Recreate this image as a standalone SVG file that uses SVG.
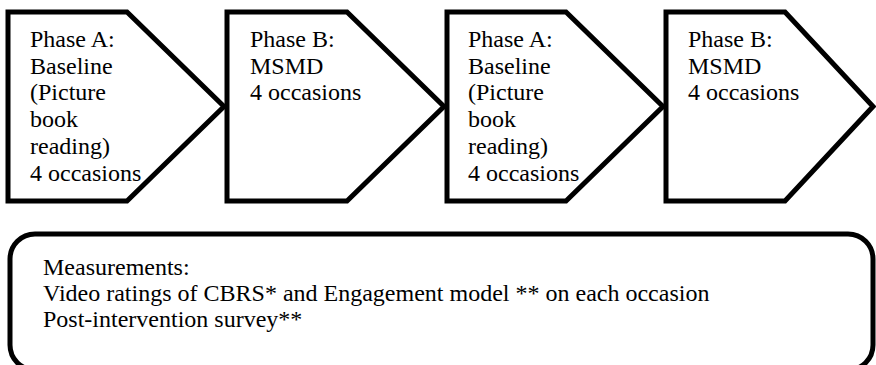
<svg xmlns="http://www.w3.org/2000/svg" width="876" height="365" viewBox="0 0 876 365">
<style>
.shape{fill:#fff;stroke:#000;stroke-width:5;stroke-linejoin:miter}
.t{font-family:"Liberation Serif","Times New Roman",serif;font-size:24px;fill:#000}
</style>
<rect width="876" height="365" fill="#fff"/>
<g id="phase1">
<polygon class="shape" points="8,12 127,12 224,106.5 127,201 8,201"/>
<text class="t" x="30" y="47">Phase A:</text>
<text class="t" x="30" y="74">Baseline</text>
<text class="t" x="30" y="100">(Picture</text>
<text class="t" x="30" y="127">book</text>
<text class="t" x="30" y="154">reading)</text>
<text class="t" x="30" y="181">4 occasions</text>
</g>
<g id="phase2">
<polygon class="shape" points="227,12 347,12 444,106.5 347,201 227,201"/>
<text class="t" x="250" y="47">Phase B:</text>
<text class="t" x="250" y="74">MSMD</text>
<text class="t" x="250" y="100">4 occasions</text>
</g>
<g id="phase3">
<polygon class="shape" points="447,12 566,12 663,106.5 566,201 447,201"/>
<text class="t" x="468" y="47">Phase A:</text>
<text class="t" x="468" y="74">Baseline</text>
<text class="t" x="468" y="100">(Picture</text>
<text class="t" x="468" y="127">book</text>
<text class="t" x="468" y="154">reading)</text>
<text class="t" x="468" y="181">4 occasions</text>
</g>
<g id="phase4">
<polygon class="shape" points="666,12 785,12 873,106.5 785,201 666,201"/>
<text class="t" x="688" y="47">Phase B:</text>
<text class="t" x="688" y="74">MSMD</text>
<text class="t" x="688" y="100">4 occasions</text>
</g>
<g id="measurements">
<rect class="shape" x="10" y="234" width="863" height="136" rx="25" ry="25"/>
<text class="t" x="43" y="275">Measurements:</text>
<text class="t" x="43" y="301">Video ratings of CBRS* and Engagement model ** on each occasion</text>
<text class="t" x="43" y="327">Post-intervention survey**</text>
</g>
<g id="connectors"></g>
</svg>
